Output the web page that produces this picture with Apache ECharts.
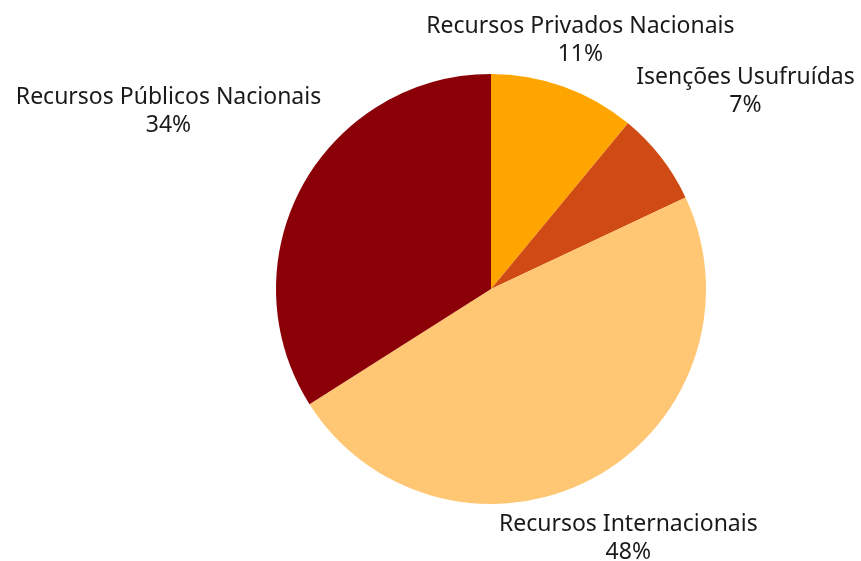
<!DOCTYPE html>
<html>
<head>
<meta charset="utf-8">
<script src="https://cdn.jsdelivr.net/npm/echarts@6/dist/echarts.min.js"></script>
<style>
  html, body { margin: 0; padding: 0; background: #fff; }
  #chart { width: 861px; height: 561px; }
</style>
</head>
<body>
<div id="chart"></div>
<script>
// dados (percentuais)
const categories = [
  'Recursos Privados Nacionais',
  'Isenções Usufruídas',
  'Recursos Internacionais',
  'Recursos Públicos Nacionais'
]
const values = [11, 7, 48, 34]
const colors = ['#FFA500', '#D04A13', '#FFC773', '#8B0007']

// distância do centro até o centro de cada rótulo (px)
const labelDist = [264, 322, 285, 368]

const cx = 491
const cy = 289
const radius = 215

const total = values.reduce((a, b) => a + b, 0)
const midAngles = []
let acc = 0
values.forEach(v => {
  midAngles.push((acc + v / 2) / total * Math.PI * 2)
  acc += v
})

const chart = echarts.init(document.getElementById('chart'))

chart.setOption({
  animation: false,
  series: [
    {
      type: 'pie',
      center: [cx, cy],
      radius: radius,
      startAngle: 90,
      clockwise: true,
      avoidLabelOverlap: false,
      data: categories.map((name, i) => ({
        name,
        value: values[i],
        itemStyle: { color: colors[i] }
      })),
      label: {
        show: true,
        position: 'outside',
        formatter: '{b}\n{d}%',
        fontFamily: 'Noto Sans',
        fontSize: 23,
        lineHeight: 28,
        color: '#1a1a1a',
        align: 'center'
      },
      labelLine: { show: false },
      labelLayout: (params) => {
        const a = midAngles[params.dataIndex]
        const d = labelDist[params.dataIndex]
        return {
          x: cx + d * Math.sin(a),
          y: cy - d * Math.cos(a),
          align: 'center',
          verticalAlign: 'middle'
        }
      }
    }
  ]
})
</script>
</body>
</html>
